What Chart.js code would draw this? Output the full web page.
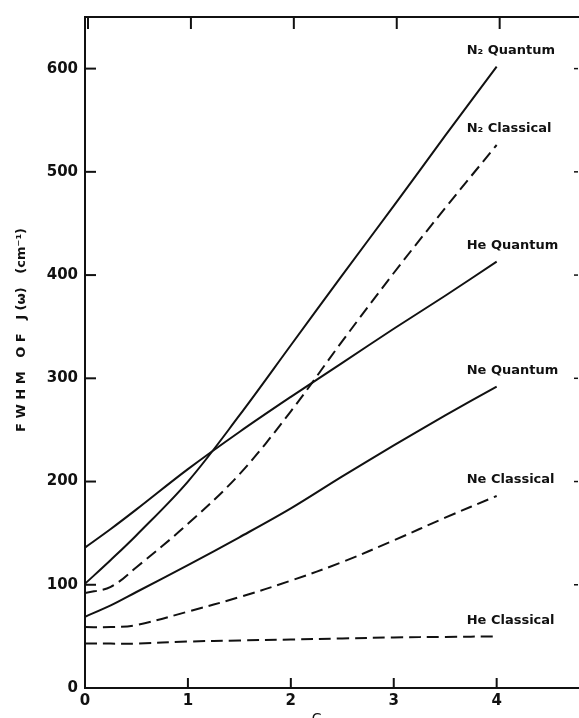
<!DOCTYPE html>
<html>
<head>
<meta charset="utf-8">
<script src="https://cdn.jsdelivr.net/npm/chart.js@4.4.1/dist/chart.umd.min.js"></script>
<style>
  html, body { margin: 0; padding: 0; background: #fff; }
  canvas { display: block; }
</style>
</head>
<body>
<canvas id="c" width="579" height="718"></canvas>
<script>
// Coupling constant C (x axis)
const cValues = [0, 0.25, 0.5, 1, 1.5, 2, 2.5, 3, 3.5, 4];

// FWHM of J(ω) in cm⁻¹ for each model
const n2Quantum   = [101, 124, 148, 200, 264, 332, 400, 467, 535, 602];
const n2Classical = [92, 98, 117, 159, 207, 268, 336, 402, 465, 526];
const heQuantum   = [136, 154, 173, 212, 248, 282, 315, 348, 380, 413];
const neQuantum   = [69, 80, 93, 119, 146, 174, 205, 235, 264, 292];
const neClassical = [59, 59, 61, 74, 88, 104, 122, 143, 165, 186];
const heClassical = [43, 43, 43, 45, 46, 47, 48, 49, 49.5, 50];

const seriesNames = ['N₂ Quantum', 'N₂ Classical', 'He Quantum', 'Ne Quantum', 'Ne Classical', 'He Classical'];
const seriesValues = [n2Quantum, n2Classical, heQuantum, neQuantum, neClassical, heClassical];
const seriesDashed = [false, true, false, false, true, true];

const xTicks = [0, 1, 2, 3, 4];
const yTicks = [0, 100, 200, 300, 400, 500, 600];

const yTitle = 'F W H M   O F   J (ω)   (cm⁻¹)';
const xTitle = 'C';

const ink = '#111';

const datasets = seriesNames.map((name, i) => ({
  label: name,
  data: cValues.map((c, j) => ({ x: c, y: seriesValues[i][j] })),
  borderColor: ink,
  borderWidth: 2,
  borderDash: seriesDashed[i] ? [12, 6] : [],
  pointRadius: 0,
  fill: false,
  tension: 0.35
}));

// Inward tick marks, curve labels and axis titles
const decorations = {
  id: 'decorations',
  afterDraw(chart) {
    const { ctx, chartArea, scales } = chart;
    const x = scales.x, y = scales.y;
    ctx.save();
    ctx.strokeStyle = ink;
    ctx.lineWidth = 2;
    ctx.setLineDash([]);
    // left axis ticks
    yTicks.forEach(v => {
      if (v === 0) return;
      const py = y.getPixelForValue(v);
      ctx.beginPath();
      ctx.moveTo(chartArea.left, py);
      ctx.lineTo(chartArea.left + 11, py);
      ctx.stroke();
      // faint marks on the right side
      ctx.save();
      ctx.lineWidth = 1.5;
      ctx.beginPath();
      ctx.moveTo(chartArea.right - 5, py);
      ctx.lineTo(chartArea.right - 1, py);
      ctx.stroke();
      ctx.restore();
    });
    // bottom and top ticks
    xTicks.forEach(v => {
      const px = x.getPixelForValue(v);
      if (v !== 0) {
        ctx.beginPath();
        ctx.moveTo(px, chartArea.bottom);
        ctx.lineTo(px, chartArea.bottom - 10);
        ctx.stroke();
      }
      ctx.beginPath();
      ctx.moveTo(px + 3, chartArea.top);
      ctx.lineTo(px + 3, chartArea.top + 12);
      ctx.stroke();
    });
    // curve labels above each line end
    ctx.fillStyle = ink;
    ctx.font = 'bold 13px "DejaVu Sans"';
    ctx.textAlign = 'left';
    ctx.textBaseline = 'middle';
    chart.data.datasets.forEach(ds => {
      const last = ds.data[ds.data.length - 1];
      const px = x.getPixelForValue(last.x) - 30;
      const py = y.getPixelForValue(last.y) - 16;
      ctx.fillText(ds.label, px, py);
    });
    // y axis title
    ctx.font = 'bold 13px "DejaVu Sans"';
    ctx.save();
    ctx.translate(22, 330);
    ctx.rotate(-Math.PI / 2);
    ctx.textAlign = 'center';
    ctx.textBaseline = 'middle';
    ctx.fillText(yTitle, 0, 0);
    ctx.restore();
    // x axis title
    ctx.font = '14px "DejaVu Sans"';
    ctx.textAlign = 'center';
    ctx.textBaseline = 'top';
    ctx.fillText(xTitle, x.getPixelForValue(2.25), 712);
    ctx.restore();
  }
};

new Chart(document.getElementById('c'), {
  type: 'line',
  data: { datasets },
  options: {
    responsive: false,
    animation: false,
    devicePixelRatio: 1,
    layout: { padding: { top: 17, right: 0, left: 0, bottom: 0 } },
    plugins: { legend: { display: false }, tooltip: { enabled: false } },
    scales: {
      x: {
        type: 'linear',
        position: 'bottom',
        min: 0,
        max: 4.8,
        afterFit: s => { s.height = 30; },
        afterBuildTicks: s => { s.ticks = xTicks.map(v => ({ value: v })); },
        grid: { display: false, drawTicks: false },
        border: { display: true, color: ink, width: 2 },
        ticks: {
          padding: 4,
          color: ink,
          font: { family: 'DejaVu Sans', size: 15, weight: 'bold' },
          maxRotation: 0
        }
      },
      xTop: {
        type: 'linear',
        position: 'top',
        min: 0,
        max: 4.8,
        afterFit: s => { s.height = 0; },
        grid: { display: false, drawTicks: false },
        border: { display: true, color: ink, width: 2 },
        ticks: { display: false }
      },
      y: {
        type: 'linear',
        position: 'left',
        min: 0,
        max: 650,
        afterFit: s => { s.width = 85; },
        afterBuildTicks: s => { s.ticks = yTicks.map(v => ({ value: v })); },
        grid: { display: false, drawTicks: false },
        border: { display: true, color: ink, width: 2 },
        ticks: {
          padding: 7,
          color: ink,
          font: { family: 'DejaVu Sans', size: 15, weight: 'bold' }
        }
      }
    }
  },
  plugins: [decorations]
});
</script>
</body>
</html>
